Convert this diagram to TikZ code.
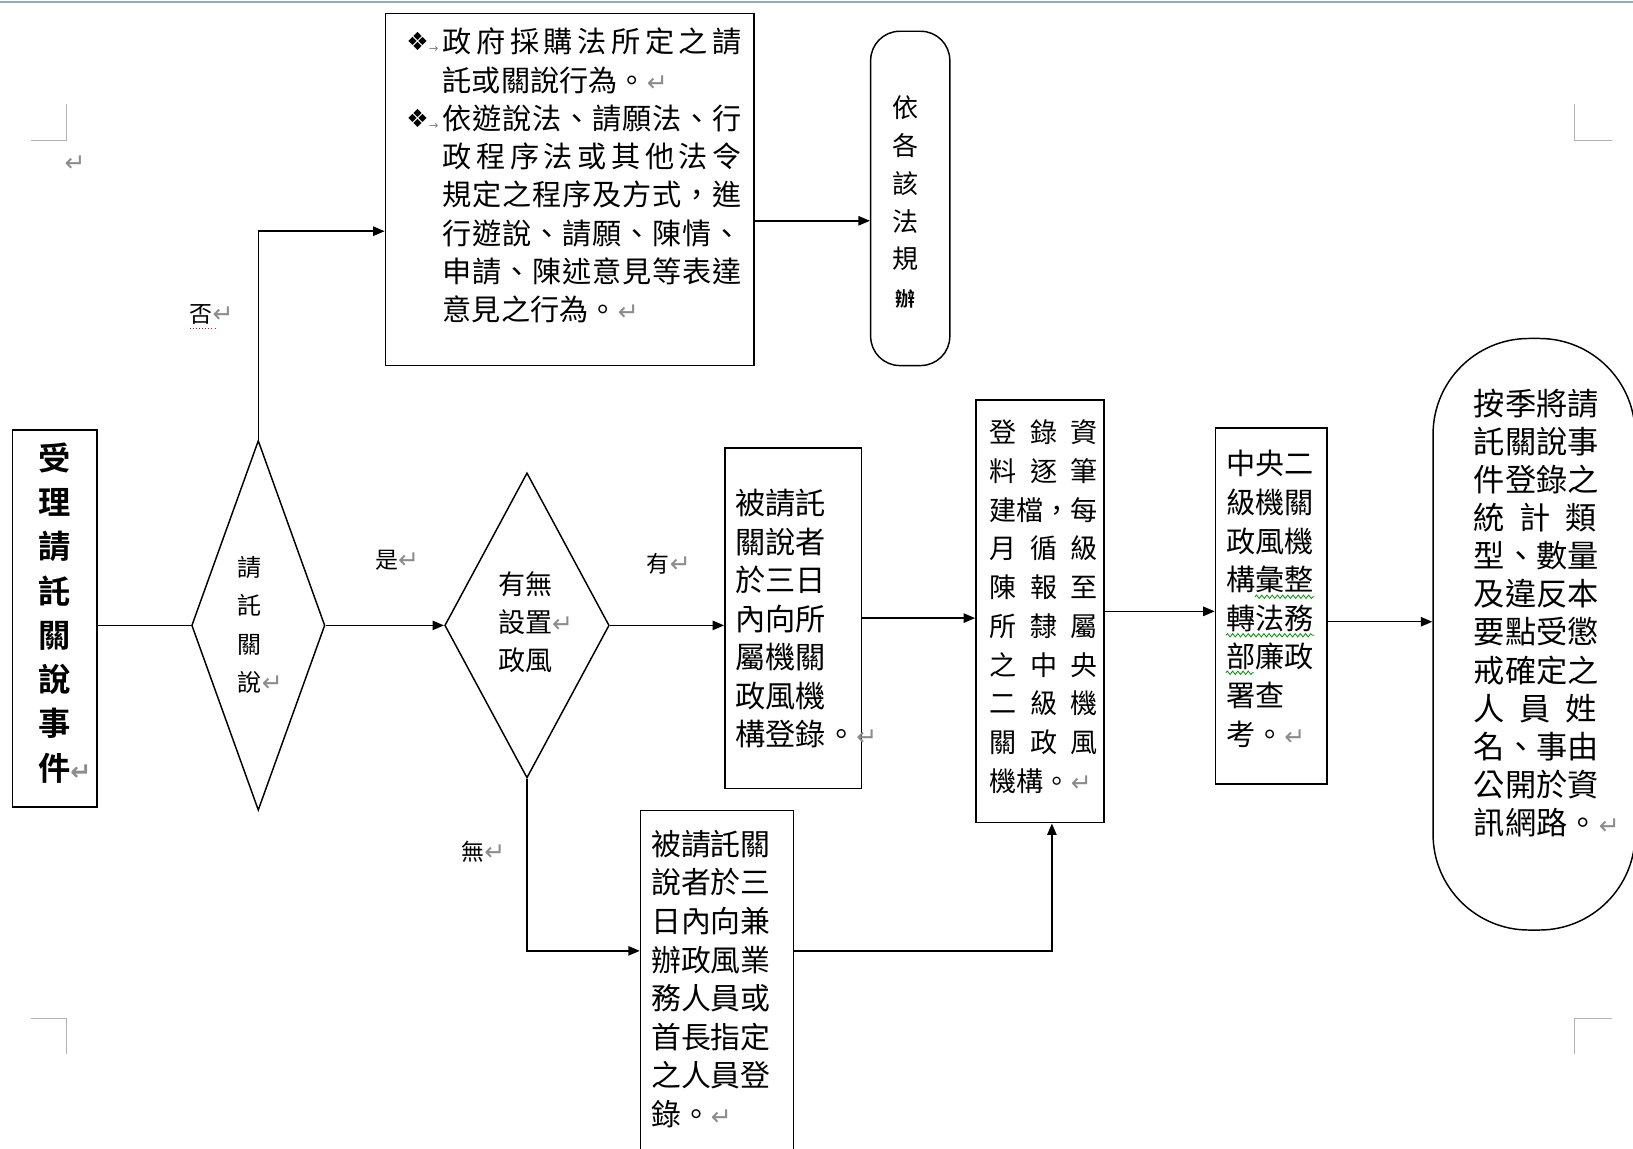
\documentclass[tikz,border=0pt]{standalone}
\usepackage{fontspec}
\setmainfont{Noto Sans CJK TC}[BoldFont={Noto Sans CJK TC Bold}]
\newfontfamily\symfont{DejaVu Sans}
\usetikzlibrary{shapes.geometric,arrows.meta,positioning,decorations.pathmorphing}
\definecolor{frameline}{RGB}{150,175,180}

% paragraph mark and bullet as Word shows them
\newcommand{\enter}{{\symfont\fontsize{24}{24}\selectfont\color{gray!90}↵}}
\newcommand{\bul}{\makebox[35pt][l]{\raisebox{2pt}{\symfont\fontsize{24}{24}\selectfont❖}{\symfont\fontsize{11}{11}\selectfont\color{gray}→}}}
% spread the characters of a line over a given width
\def\sprfirst#1{#1\sprloop}
\def\sprloop#1{\ifx#1\relax\else\hfil#1\expandafter\sprloop\fi}
\newcommand{\spr}[2]{\makebox[#1][s]{\sprfirst#2\relax}}

\begin{document}
\begin{tikzpicture}[x=1pt,y=-1pt,
    box/.style={draw,line width=1.4pt,inner sep=0pt},
    txt/.style={inner sep=0pt,align=left,anchor=west},
    lbl/.style={inner sep=0pt,anchor=west,font=\fontsize{22}{22}\selectfont},
    link/.style={line width=1.4pt},
    arr/.style={line width=1.4pt,-{Triangle[length=11pt,width=9pt]}},
    crop/.style={gray!60,line width=1.2pt},
    wavy/.style={green!60!black,line width=0.8pt,decorate,decoration={snake,amplitude=1.6pt,segment length=5pt}}]
  \useasboundingbox[fill=white] (0,0) rectangle (1568,1103);
  \draw[frameline,line width=2.5pt] (0,2) -- (1568,2);

  % page corner marks
  \draw[crop] (30,135) -- (64,135) -- (64,100);
  \draw[crop] (1548,135) -- (1512,135) -- (1512,100);
  \draw[crop] (30,978) -- (64,978) -- (64,1012);
  \draw[crop] (1548,978) -- (1512,978) -- (1512,1012);
  \node[inner sep=0pt] (pmark) at (72,157) {\enter};

  % shapes
  \node[box,minimum width=81pt,minimum height=362pt] (event) at (52.5,594) {};
  \node[box,diamond,minimum width=128pt,minimum height=355pt] (ask) at (248,600.5) {};
  \node[box,diamond,minimum width=158pt,minimum height=293pt] (office) at (506,600.5) {};
  \node[box,minimum width=354pt,minimum height=338pt] (other) at (547,182) {};
  \node[box,rounded corners=28pt,minimum width=76pt,minimum height=321pt] (law) at (874,190.5) {};
  \node[box,minimum width=131pt,minimum height=327pt] (report) at (761.5,593.5) {};
  \node[box,minimum width=147pt,minimum height=337pt] (proxy) at (688.5,946.5) {};
  \node[box,minimum width=123pt,minimum height=406pt] (record) at (998.5,587) {};
  \node[box,minimum width=107pt,minimum height=342pt] (review) at (1220.5,582) {};
  \node[box,rounded corners=92pt,minimum width=194pt,minimum height=568pt] (publish) at (1473,609) {};

  % texts
  \node[txt,anchor=center,align=center,font=\fontsize{31}{42.5}\selectfont\bfseries] (eventtxt) at (52,588.5)
    {受\\理\\請\\託\\關\\說\\事\\件\rlap{\enter}};
  \node[txt,anchor=center,align=center,font=\fontsize{23}{36.7}\selectfont] (asktxt) at (240,600)
    {請\\託\\關\\說\rlap{\enter}};
  \node[txt,font=\fontsize{26}{36.5}\selectfont] (officetxt) at (478,597)
    {有無\\設置\enter\\政風};
  \node[txt,font=\fontsize{28}{36.7}\selectfont] (othertxt) at (390,168.5)
    {\bul\spr{287pt}{政府採購法所定之請}\\
     \hspace*{35pt}託或關說行為。\enter\\
     \bul\spr{287pt}{依遊說法、請願法、行}\\
     \hspace*{35pt}\spr{287pt}{政程序法或其他法令}\\
     \hspace*{35pt}\spr{287pt}{規定之程序及方式，進}\\
     \hspace*{35pt}\spr{287pt}{行遊說、請願、陳情、}\\
     \hspace*{35pt}\spr{287pt}{申請、陳述意見等表達}\\
     \hspace*{35pt}意見之行為。\enter};
  \node[txt,anchor=center,align=center,font=\fontsize{25}{36.4}\selectfont] (lawtxt) at (869,194)
    {依\\各\\該\\法\\規\\{\fontsize{19}{19}\selectfont\bfseries 辦}};
  \node[txt,font=\fontsize{29}{37}\selectfont] (reporttxt) at (706,594)
    {被請託\\關說者\\於三日\\內向所\\屬機關\\政風機\\構登錄。\enter};
  \node[txt,font=\fontsize{28.7}{37.1}\selectfont] (proxytxt) at (625,940)
    {被請託關\\說者於三\\日內向兼\\辦政風業\\務人員或\\首長指定\\之人員登\\錄。\enter};
  \node[txt,font=\fontsize{26}{37.2}\selectfont] (recordtxt) at (950,582.5)
    {\spr{104pt}{登錄資}\\\spr{104pt}{料逐筆}\\建檔，每\\\spr{104pt}{月循級}\\\spr{104pt}{陳報至}\\
     \spr{104pt}{所隸屬}\\\spr{104pt}{之中央}\\\spr{104pt}{二級機}\\\spr{104pt}{關政風}\\機構。\enter};
  \node[txt,font=\fontsize{28}{37.1}\selectfont] (reviewtxt) at (1177,575)
    {中央二\\級機關\\政風機\\構彙整\\轉法務\\部廉政\\署查\\考。\enter};
  \node[txt,font=\fontsize{30}{36.6}\selectfont] (publishtxt) at (1415,588.5)
    {按季將請\\託關說事\\件登錄之\\\spr{118pt}{統計類}\\型、數量\\及違反本\\
     要點受懲\\戒確定之\\\spr{118pt}{人員姓}\\名、事由\\公開於資\\訊網路。\enter};

  % Word proofing underlines
  \draw[red,dotted,line width=1pt] (182,315) -- (208,315);
  \draw[wavy] (1205,573) -- (1262,573);
  \draw[wavy] (1177,610) -- (1262,610);
  \draw[wavy] (1177,646) -- (1204,646);

  % branch labels
  \node[lbl] (no) at (182,302) {否\enter};
  \node[lbl] (yes) at (360,538) {是\enter};
  \node[lbl] (has) at (621,541) {有\enter};
  \node[lbl] (none) at (443,818) {無\enter};

  % connectors
  \draw[link] (event.east |- ask.west) -- (ask.west);
  \draw[arr] (ask.north) |- ([yshift=-40pt]other.west);
  \draw[arr] ([yshift=-30pt]other.east) -- ([yshift=-30pt]other.east -| law.west);
  \draw[arr] (ask.east) -- (office.west);
  \draw[arr] (office.east) -- (office.east -| report.west);
  \draw[arr] (report.east) -- (report.east -| record.west);
  \draw[arr] (record.east) -- (record.east -| review.west);
  \draw[arr] ([yshift=-15pt]review.east) -- ([yshift=-15pt]review.east -| publish.west);
  \draw[arr] (office.south) |- ([yshift=33.5pt]proxy.west);
  \draw[arr] ([yshift=33.5pt]proxy.east) -| ([xshift=11.5pt]record.south);
\end{tikzpicture}
\end{document}
